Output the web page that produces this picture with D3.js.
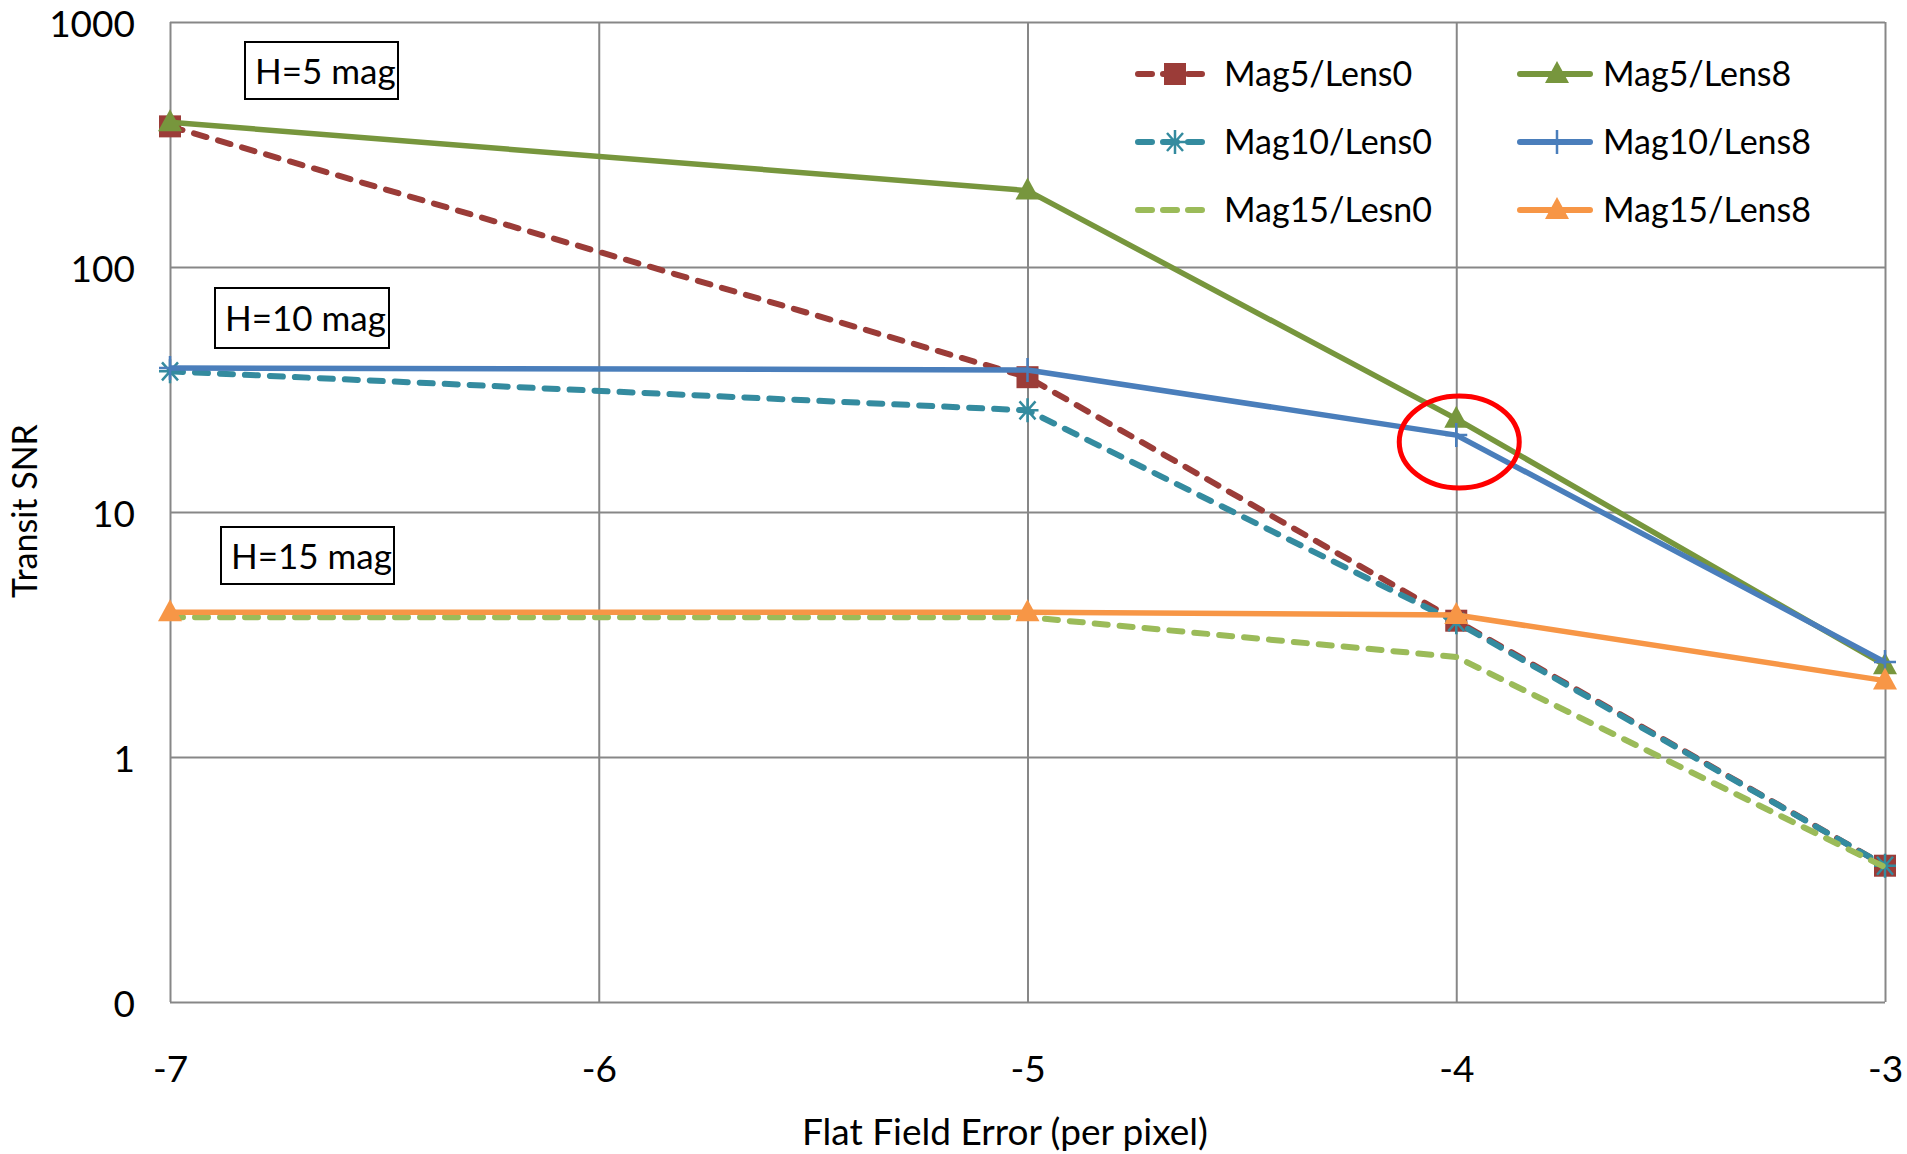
<!DOCTYPE html>
<html>
<head>
<meta charset="utf-8">
<script src="https://cdn.jsdelivr.net/npm/d3@7"></script>
<style>
  body { margin: 0; background: #fff; }
  svg { display: block; font-family: Lato, "Open Sans", sans-serif; }
  .grid line { stroke: #878787; stroke-width: 2; }
  .grid .domain { display: none; }
  .axis .domain { display: none; }
  .axis text { font-size: 37px; fill: #000; font-family: Lato, "Open Sans", sans-serif; }
  .series { fill: none; stroke-linejoin: round; }
  .note rect { fill: none; stroke: #000; stroke-width: 2; }
  .note text { font-size: 35px; fill: #000; }
  .legend text { font-size: 34px; fill: #000; }
</style>
</head>
<body>
<svg width="1907" height="1154"></svg>
<script>
// x positions (log10 of flat field error)
const xValues = [-7, -5, -4, -3];
const xTicks = [-7, -6, -5, -4, -3];

// y axis ticks (log scale), the lowest decade is printed as "0"
const yTicks = [0.1, 1, 10, 100, 1000];
const yTickLabels = ["0", "1", "10", "100", "1000"];

// Transit SNR for each series
const seriesNames = ["Mag5/Lens0", "Mag5/Lens8", "Mag10/Lens0", "Mag10/Lens8", "Mag15/Lesn0", "Mag15/Lens8"];
const mag5Lens0 = [375, 35.5, 3.6, 0.36];
const mag5Lens8 = [390, 205, 24, 2.37];
const mag10Lens0 = [37.5, 26, 3.55, 0.36];
const mag10Lens8 = [38.7, 38, 20.6, 2.44];
const mag15Lens0 = [3.72, 3.72, 2.56, 0.355];
const mag15Lens8 = [3.9, 3.9, 3.8, 2.05];

// magnitude labels in boxes
const noteLabels = ["H=5 mag", "H=10 mag", "H=15 mag"];

const seriesValues = [mag5Lens0, mag5Lens8, mag10Lens0, mag10Lens8, mag15Lens0, mag15Lens8];
const seriesStyle = [
  { color: "#9B3C38", dashed: true, marker: "square" },
  { color: "#77963D", dashed: false, marker: "triangle" },
  { color: "#348B9F", dashed: true, marker: "asterisk" },
  { color: "#4A7EBB", dashed: false, marker: "plus" },
  { color: "#9BBB59", dashed: true, marker: "none" },
  { color: "#F79646", dashed: false, marker: "triangle" }
];

const margin = { left: 170, right: 1885, top: 22, bottom: 1002 };

const svg = d3.select("svg");

const x = d3.scaleLinear().domain([-7, -3]).range([margin.left, margin.right]);
const y = d3.scaleLog().domain([0.1, 1000]).range([margin.bottom, margin.top]);

// Gridlines
svg.append("g")
  .attr("class", "grid")
  .attr("transform", `translate(0,${margin.bottom})`)
  .call(d3.axisBottom(x).tickValues(xTicks).tickSize(-(margin.bottom - margin.top)).tickFormat(""));

svg.append("g")
  .attr("class", "grid")
  .attr("transform", `translate(${margin.left},0)`)
  .call(d3.axisLeft(y).tickValues(yTicks).tickSize(-(margin.right - margin.left)).tickFormat(""));

// Tick labels
svg.append("g")
  .attr("class", "axis")
  .attr("transform", `translate(${margin.left},0)`)
  .call(d3.axisLeft(y).tickValues(yTicks).tickSize(0).tickPadding(35)
    .tickFormat((d, i) => yTickLabels[i]))
  .selectAll("text").attr("dy", "0.4em");

svg.append("g")
  .attr("class", "axis")
  .attr("transform", `translate(0,${margin.bottom})`)
  .call(d3.axisBottom(x).tickValues(xTicks).tickSize(0).tickPadding(54)
    .tickFormat(d => d));

// Axis titles
svg.append("text")
  .attr("x", 1005)
  .attr("y", 1145)
  .attr("text-anchor", "middle")
  .style("font-size", "37px")
  .text("Flat Field Error (per pixel)");

svg.append("text")
  .attr("transform", "translate(37,511) rotate(-90)")
  .attr("text-anchor", "middle")
  .style("font-size", "34px")
  .text("Transit SNR");

// Magnitude boxes
const notes = svg.append("g").attr("class", "note");
const noteBoxes = [
  { x: 245, y: 42, w: 153, h: 57 },
  { x: 215, y: 288, w: 174, h: 60 },
  { x: 221, y: 527, w: 173, h: 57 }
];
noteLabels.forEach((label, i) => {
  const b = noteBoxes[i];
  notes.append("rect").attr("x", b.x).attr("y", b.y).attr("width", b.w).attr("height", b.h);
  notes.append("text")
    .attr("x", b.x + 10)
    .attr("y", b.y + b.h / 2 + 13)
    .text(label);
});

// Marker drawing helper
function drawMarker(g, type, color) {
  if (type === "square") {
    g.append("rect").attr("x", -11).attr("y", -11).attr("width", 22).attr("height", 22).attr("fill", color);
  } else if (type === "triangle") {
    g.append("path").attr("d", "M0,-13L12,9L-12,9Z").attr("fill", color);
  } else if (type === "asterisk") {
    g.append("path")
      .attr("d", "M-11,0L11,0M-8,-9L8,9M-8,9L8,-9M0,-12L0,12")
      .attr("stroke", color).attr("stroke-width", 2.5).attr("fill", "none");
  } else if (type === "plus") {
    g.append("path")
      .attr("d", "M0,-12L0,12M-11,0L11,0")
      .attr("stroke", color).attr("stroke-width", 2.5).attr("fill", "none");
  }
}

const line = d3.line()
  .x((d, i) => x(xValues[i]))
  .y(d => y(d));

// Series lines and markers
seriesValues.forEach((values, s) => {
  const st = seriesStyle[s];
  const g = svg.append("g");
  g.append("path")
    .datum(values)
    .attr("class", "series")
    .attr("d", line)
    .attr("stroke", st.color)
    .attr("stroke-width", st.dashed ? 6 : 5.5)
    .attr("stroke-linecap", st.dashed ? "round" : "butt")
    .attr("stroke-dasharray", st.dashed ? "13,12" : null);

  values.forEach((v, i) => {
    const m = g.append("g").attr("transform", `translate(${x(xValues[i])},${y(v)})`);
    drawMarker(m, st.marker, st.color);
  });
});

// Legend, two columns
const legend = svg.append("g").attr("class", "legend");
const legendCols = [1138, 1520];
const legendRows = [74, 142, 210];
seriesNames.forEach((name, s) => {
  const st = seriesStyle[s];
  const lx = legendCols[s % 2];
  const ly = legendRows[Math.floor(s / 2)];
  const item = legend.append("g").attr("transform", `translate(${lx},${ly})`);
  item.append("line")
    .attr("x1", 0).attr("x2", 70).attr("y1", 0).attr("y2", 0)
    .attr("stroke", st.color)
    .attr("stroke-width", 6)
    .attr("stroke-linecap", "round")
    .attr("stroke-dasharray", st.dashed ? "14,11" : null);
  const m = item.append("g").attr("transform", "translate(37,0)");
  drawMarker(m, st.marker, st.color);
  item.append("text")
    .attr("x", s % 2 === 0 ? 86 : 83)
    .attr("y", 12)
    .text(name);
});

// Red highlight ellipse
svg.append("ellipse")
  .attr("cx", x(-4) + 3)
  .attr("cy", 442)
  .attr("rx", 60)
  .attr("ry", 46)
  .attr("fill", "none")
  .attr("stroke", "#FF0000")
  .attr("stroke-width", 5);
</script>
</body>
</html>
